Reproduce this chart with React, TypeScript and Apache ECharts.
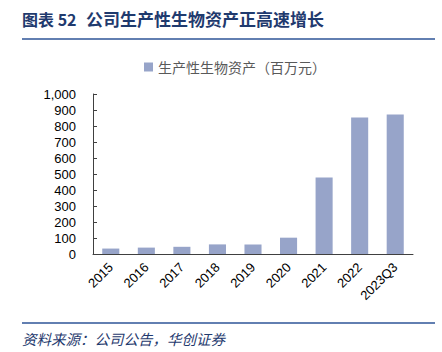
import React, { useEffect, useRef } from "react";
import * as echarts from "echarts";

const categories = ["2015", "2016", "2017", "2018", "2019", "2020", "2021", "2022", "2023Q3"];
const values = [34, 40, 45, 60, 60, 102, 478, 853, 872];
const seriesName = "生产性生物资产（百万元）";
const titleLabel = "图表 52";
const titleText = "公司生产性生物资产正高速增长";
const sourceText = "资料来源：公司公告，华创证券";

export default function App() {
  const ref = useRef<HTMLDivElement>(null);
  useEffect(() => {
    if (!ref.current) return;
    const chart = echarts.init(ref.current, undefined, { renderer: "svg" });
    const navy = "#1F3A6E";
    chart.setOption({
      animation: false,
      backgroundColor: "#ffffff",
      grid: { left: 93, right: 29, top: 94, bottom: 98 },
      legend: {
        top: 55,
        left: 139,
        data: [seriesName],
        icon: "rect",
        itemWidth: 9,
        itemHeight: 9,
        itemGap: 3,
        textStyle: { fontFamily: "Noto Sans CJK SC", fontSize: 14, color: "#595959" },
      },
      xAxis: {
        type: "category",
        data: categories,
        axisLine: { lineStyle: { color: "#404040", width: 1 } },
        axisTick: { inside: true, length: 5, lineStyle: { color: "#404040" } },
        axisLabel: {
          rotate: 45,
          interval: 0,
          fontFamily: "Liberation Sans",
          fontSize: 13,
          color: "#000",
          margin: 11,
        },
      },
      yAxis: {
        type: "value",
        min: 0,
        max: 1000,
        interval: 100,
        splitLine: { show: false },
        axisLine: { show: true, lineStyle: { color: "#404040", width: 1 } },
        axisTick: { show: true, inside: true, length: 4, lineStyle: { color: "#404040" } },
        axisLabel: {
          fontFamily: "Liberation Sans",
          fontSize: 13,
          color: "#000",
          margin: 17,
          formatter: (v: number) => v.toLocaleString("en-US"),
        },
      },
      series: [
        {
          name: seriesName,
          type: "bar",
          data: values,
          barWidth: "48%",
          itemStyle: { color: "#97A4C9" },
        },
      ],
      graphic: [
        {
          type: "text",
          left: 22,
          top: 11,
          style: {
            text: titleLabel,
            fontFamily: "Noto Sans CJK SC",
            fontWeight: "bold",
            fontSize: 16,
            fill: navy,
          },
        },
        {
          type: "text",
          left: 86,
          top: 10,
          style: {
            text: titleText,
            fontFamily: "Noto Sans CJK SC",
            fontWeight: "bold",
            fontSize: 17,
            fill: navy,
          },
        },
        {
          type: "line",
          shape: { x1: 22, y1: 39, x2: 435, y2: 39 },
          style: { stroke: "#2E5597", lineWidth: 1.5 },
        },
        {
          type: "line",
          shape: { x1: 22, y1: 323, x2: 435, y2: 323 },
          style: { stroke: "#2E5597", lineWidth: 1.5 },
        },
        {
          type: "text",
          left: 22,
          top: 331,
          style: {
            text: sourceText,
            fontFamily: "Noto Sans CJK SC",
            fontStyle: "italic",
            fontSize: 14.5,
            fill: navy,
          },
        },
      ],
    });
    return () => chart.dispose();
  }, []);
  return <div ref={ref} style={{ width: 442, height: 352, position: "absolute", left: 0, top: 0 }} />;
}
